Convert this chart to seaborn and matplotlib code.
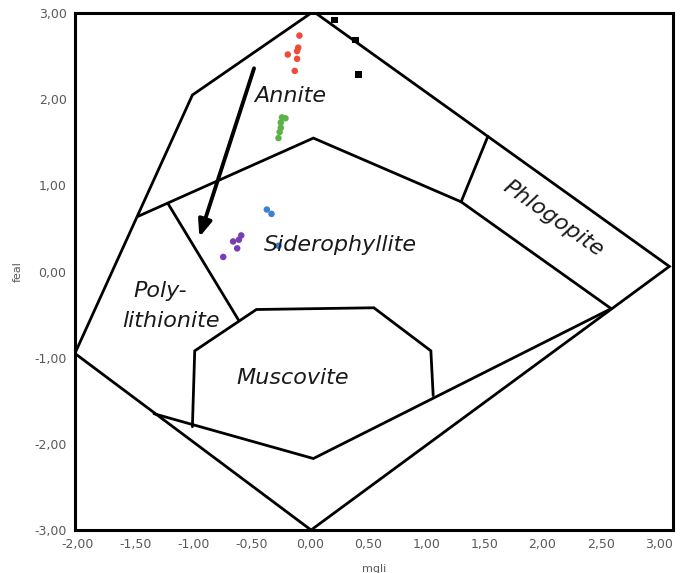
import matplotlib
matplotlib.use("Agg")
import matplotlib.pyplot as plt
from matplotlib.ticker import FuncFormatter
import seaborn as sns
import pandas as pd

# Sample compositions (mgli, feal) grouped by series
red_mgli = [-0.09, -0.10, -0.11, -0.19, -0.11, -0.13]
red_feal = [2.74, 2.60, 2.56, 2.52, 2.47, 2.33]

green_mgli = [-0.24, -0.21, -0.25, -0.25, -0.26, -0.27]
green_feal = [1.79, 1.78, 1.73, 1.67, 1.62, 1.55]

blue_mgli = [-0.37, -0.33, -0.27]
blue_feal = [0.72, 0.67, 0.30]

purple_mgli = [-0.59, -0.61, -0.66, -0.625, -0.745]
purple_feal = [0.42, 0.37, 0.35, 0.27, 0.17]

black_mgli = [0.21, 0.39, 0.42]
black_feal = [2.92, 2.69, 2.29]

# Classification field boundaries (mgli, feal)
outer_field = [(0.03, 3.02), (3.09, 0.06), (0.01, -3.0), (-2.02, -0.95),
               (-1.01, 2.05), (0.03, 3.02)]
annite_base = [(-1.48, 0.64), (0.03, 1.55), (1.30, 0.81), (2.59, -0.43)]
phlogopite_cut = [(1.30, 0.81), (1.53, 1.57)]
polylithionite_cut = [(-1.22, 0.79), (-0.61, -0.57)]
muscovite_field = [(-1.01, -1.80), (-0.99, -0.92), (-0.46, -0.44), (0.55, -0.42),
                   (1.04, -0.92), (1.06, -1.44)]
lower_cut = [(-1.34, -1.65), (0.03, -2.17), (2.59, -0.43)]

field_names = ["Annite", "Siderophyllite", "Phlogopite", "Poly-", "lithionite", "Muscovite"]
field_pos = [(-0.17, 2.04), (0.26, 0.31), (2.09, 0.62), (-1.29, -0.22), (-1.19, -0.57), (-0.15, -1.23)]
field_rot = [0, 0, -35, 0, 0, 0]

trend_start = (-0.48, 2.36)
trend_end = (-0.95, 0.40)

frames = []
for name, xs, ys in [("red", red_mgli, red_feal), ("green", green_mgli, green_feal),
                     ("blue", blue_mgli, blue_feal), ("purple", purple_mgli, purple_feal)]:
    frames.append(pd.DataFrame({"mgli": xs, "feal": ys, "series": name}))
df = pd.concat(frames, ignore_index=True)
df_black = pd.DataFrame({"mgli": black_mgli, "feal": black_feal})

sns.set_style("white")
plt.rcParams["font.family"] = ["DejaVu Sans"]

fig = plt.figure(figsize=(6.81, 5.73), dpi=100)
ax = fig.add_axes([0.110, 0.075, 0.878, 0.902])

palette = {"red": "#EE4B3B", "green": "#5DB349", "blue": "#3B80D2", "purple": "#7A3DB6"}
sns.scatterplot(data=df, x="mgli", y="feal", hue="series", palette=palette,
                s=22, edgecolor="none", legend=False, ax=ax, zorder=4)
sns.scatterplot(data=df_black, x="mgli", y="feal", color="black", marker="s",
                s=22, edgecolor="none", legend=False, ax=ax, zorder=4)

line_kw = dict(color="black", lw=2.0, solid_joinstyle="miter", zorder=3)
for poly in [outer_field, annite_base, phlogopite_cut, polylithionite_cut,
             muscovite_field, lower_cut]:
    xs, ys = zip(*poly)
    ax.plot(xs, ys, **line_kw)

for name, (x, y), rot in zip(field_names, field_pos, field_rot):
    ax.text(x, y, name, fontsize=16, style="italic", color="#1a1a1a",
            ha="center", va="center", rotation=rot, zorder=5)

ax.annotate("", xy=trend_end, xytext=trend_start,
            arrowprops=dict(arrowstyle="-|>,head_length=1.0,head_width=0.4",
                            color="black", lw=2.8, shrinkA=0, shrinkB=0),
            zorder=5)

ax.set_xlim(-2.02, 3.12)
ax.set_ylim(-3.0, 3.0)
ax.set_xticks([-2, -1.5, -1, -0.5, 0, 0.5, 1, 1.5, 2, 2.5, 3])
ax.set_yticks([-3, -2, -1, 0, 1, 2, 3])
fmt = FuncFormatter(lambda v, p: f"{v:.2f}".replace(".", ","))
ax.xaxis.set_major_formatter(fmt)
ax.yaxis.set_major_formatter(fmt)
ax.tick_params(axis="both", length=0, labelsize=9, labelcolor="#595959", pad=6)

for sp in ax.spines.values():
    sp.set_visible(True)
    sp.set_color("black")
    sp.set_linewidth(2.2)

ax.set_ylabel("feal", fontsize=8, color="#595959", labelpad=8)
ax.set_xlabel("mgli", fontsize=8, color="#595959", labelpad=9)

fig.savefig("out.png", dpi=100)
